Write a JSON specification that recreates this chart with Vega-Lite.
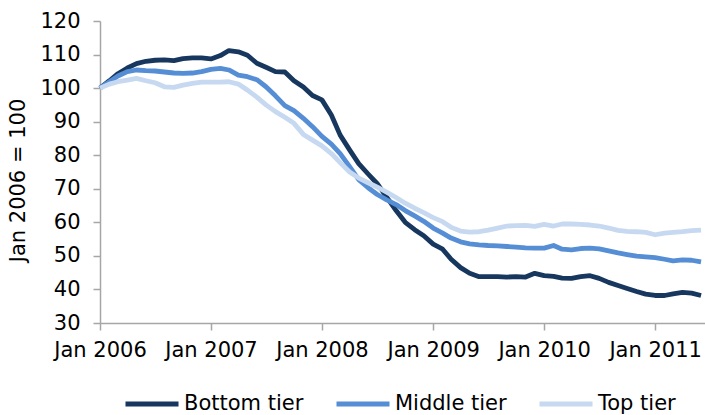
{
  "$schema": "https://vega.github.io/schema/vega-lite/v6.json",
  "width": 605,
  "height": 302,
  "autosize": "none",
  "padding": {"left": 100, "top": 21, "right": 0, "bottom": 92},
  "background": "white",
  "config": {
    "view": {"stroke": null},
    "font": "DejaVu Sans",
    "axis": {"grid": false, "domainColor": "#A6A6A6", "tickColor": "#A6A6A6", "domainWidth": 1.5, "tickWidth": 1.5, "tickSize": 7, "labelColor": "#000000", "titleColor": "#000000", "labelFont": "DejaVu Sans", "titleFont": "DejaVu Sans", "labelFontSize": 21, "titleFontSize": 21, "titleFontWeight": "normal"},
    "legend": {"labelFont": "DejaVu Sans", "labelFontSize": 21, "labelColor": "#000000"}
  },
  "data": {"values": [
    {"month": "2006-01-01", "tier": "Bottom tier", "index": 100}, {"month": "2006-02-01", "tier": "Bottom tier", "index": 102.2}, {"month": "2006-03-01", "tier": "Bottom tier", "index": 104.3}, {"month": "2006-04-01", "tier": "Bottom tier", "index": 106}, {"month": "2006-05-01", "tier": "Bottom tier", "index": 107.3}, {"month": "2006-06-01", "tier": "Bottom tier", "index": 108}, {"month": "2006-07-01", "tier": "Bottom tier", "index": 108.3}, {"month": "2006-08-01", "tier": "Bottom tier", "index": 108.4}, {"month": "2006-09-01", "tier": "Bottom tier", "index": 108.2}, {"month": "2006-10-01", "tier": "Bottom tier", "index": 108.8}, {"month": "2006-11-01", "tier": "Bottom tier", "index": 109}, {"month": "2006-12-01", "tier": "Bottom tier", "index": 109},
    {"month": "2007-01-01", "tier": "Bottom tier", "index": 108.7}, {"month": "2007-02-01", "tier": "Bottom tier", "index": 109.7}, {"month": "2007-03-01", "tier": "Bottom tier", "index": 111.2}, {"month": "2007-04-01", "tier": "Bottom tier", "index": 110.8}, {"month": "2007-05-01", "tier": "Bottom tier", "index": 109.8}, {"month": "2007-06-01", "tier": "Bottom tier", "index": 107.4}, {"month": "2007-07-01", "tier": "Bottom tier", "index": 106.2}, {"month": "2007-08-01", "tier": "Bottom tier", "index": 104.9}, {"month": "2007-09-01", "tier": "Bottom tier", "index": 104.8}, {"month": "2007-10-01", "tier": "Bottom tier", "index": 102.2}, {"month": "2007-11-01", "tier": "Bottom tier", "index": 100.3}, {"month": "2007-12-01", "tier": "Bottom tier", "index": 97.8},
    {"month": "2008-01-01", "tier": "Bottom tier", "index": 96.5}, {"month": "2008-02-01", "tier": "Bottom tier", "index": 92}, {"month": "2008-03-01", "tier": "Bottom tier", "index": 86}, {"month": "2008-04-01", "tier": "Bottom tier", "index": 81.6}, {"month": "2008-05-01", "tier": "Bottom tier", "index": 77.5}, {"month": "2008-06-01", "tier": "Bottom tier", "index": 74.4}, {"month": "2008-07-01", "tier": "Bottom tier", "index": 71.5}, {"month": "2008-08-01", "tier": "Bottom tier", "index": 67.5}, {"month": "2008-09-01", "tier": "Bottom tier", "index": 63.5}, {"month": "2008-10-01", "tier": "Bottom tier", "index": 60}, {"month": "2008-11-01", "tier": "Bottom tier", "index": 57.8}, {"month": "2008-12-01", "tier": "Bottom tier", "index": 56},
    {"month": "2009-01-01", "tier": "Bottom tier", "index": 53.5}, {"month": "2009-02-01", "tier": "Bottom tier", "index": 52}, {"month": "2009-03-01", "tier": "Bottom tier", "index": 49}, {"month": "2009-04-01", "tier": "Bottom tier", "index": 46.5}, {"month": "2009-05-01", "tier": "Bottom tier", "index": 44.8}, {"month": "2009-06-01", "tier": "Bottom tier", "index": 43.8}, {"month": "2009-07-01", "tier": "Bottom tier", "index": 43.8}, {"month": "2009-08-01", "tier": "Bottom tier", "index": 43.8}, {"month": "2009-09-01", "tier": "Bottom tier", "index": 43.7}, {"month": "2009-10-01", "tier": "Bottom tier", "index": 43.8}, {"month": "2009-11-01", "tier": "Bottom tier", "index": 43.7}, {"month": "2009-12-01", "tier": "Bottom tier", "index": 44.8},
    {"month": "2010-01-01", "tier": "Bottom tier", "index": 44.1}, {"month": "2010-02-01", "tier": "Bottom tier", "index": 43.9}, {"month": "2010-03-01", "tier": "Bottom tier", "index": 43.4}, {"month": "2010-04-01", "tier": "Bottom tier", "index": 43.3}, {"month": "2010-05-01", "tier": "Bottom tier", "index": 43.8}, {"month": "2010-06-01", "tier": "Bottom tier", "index": 44.1}, {"month": "2010-07-01", "tier": "Bottom tier", "index": 43.3}, {"month": "2010-08-01", "tier": "Bottom tier", "index": 42.1}, {"month": "2010-09-01", "tier": "Bottom tier", "index": 41.2}, {"month": "2010-10-01", "tier": "Bottom tier", "index": 40.3}, {"month": "2010-11-01", "tier": "Bottom tier", "index": 39.4}, {"month": "2010-12-01", "tier": "Bottom tier", "index": 38.6},
    {"month": "2011-01-01", "tier": "Bottom tier", "index": 38.2}, {"month": "2011-02-01", "tier": "Bottom tier", "index": 38.2}, {"month": "2011-03-01", "tier": "Bottom tier", "index": 38.7}, {"month": "2011-04-01", "tier": "Bottom tier", "index": 39.1}, {"month": "2011-05-01", "tier": "Bottom tier", "index": 38.9}, {"month": "2011-06-01", "tier": "Bottom tier", "index": 38.2},

    {"month": "2006-01-01", "tier": "Middle tier", "index": 100}, {"month": "2006-02-01", "tier": "Middle tier", "index": 101.9}, {"month": "2006-03-01", "tier": "Middle tier", "index": 103.6}, {"month": "2006-04-01", "tier": "Middle tier", "index": 104.9}, {"month": "2006-05-01", "tier": "Middle tier", "index": 105.4}, {"month": "2006-06-01", "tier": "Middle tier", "index": 105.2}, {"month": "2006-07-01", "tier": "Middle tier", "index": 105.1}, {"month": "2006-08-01", "tier": "Middle tier", "index": 104.8}, {"month": "2006-09-01", "tier": "Middle tier", "index": 104.5}, {"month": "2006-10-01", "tier": "Middle tier", "index": 104.4}, {"month": "2006-11-01", "tier": "Middle tier", "index": 104.5}, {"month": "2006-12-01", "tier": "Middle tier", "index": 104.9},
    {"month": "2007-01-01", "tier": "Middle tier", "index": 105.6}, {"month": "2007-02-01", "tier": "Middle tier", "index": 105.9}, {"month": "2007-03-01", "tier": "Middle tier", "index": 105.4}, {"month": "2007-04-01", "tier": "Middle tier", "index": 103.9}, {"month": "2007-05-01", "tier": "Middle tier", "index": 103.4}, {"month": "2007-06-01", "tier": "Middle tier", "index": 102.5}, {"month": "2007-07-01", "tier": "Middle tier", "index": 100.4}, {"month": "2007-08-01", "tier": "Middle tier", "index": 97.7}, {"month": "2007-09-01", "tier": "Middle tier", "index": 94.8}, {"month": "2007-10-01", "tier": "Middle tier", "index": 93.3}, {"month": "2007-11-01", "tier": "Middle tier", "index": 91}, {"month": "2007-12-01", "tier": "Middle tier", "index": 88.5},
    {"month": "2008-01-01", "tier": "Middle tier", "index": 85.6}, {"month": "2008-02-01", "tier": "Middle tier", "index": 83.3}, {"month": "2008-03-01", "tier": "Middle tier", "index": 80.5}, {"month": "2008-04-01", "tier": "Middle tier", "index": 76.6}, {"month": "2008-05-01", "tier": "Middle tier", "index": 72.7}, {"month": "2008-06-01", "tier": "Middle tier", "index": 70.3}, {"month": "2008-07-01", "tier": "Middle tier", "index": 68.3}, {"month": "2008-08-01", "tier": "Middle tier", "index": 66.7}, {"month": "2008-09-01", "tier": "Middle tier", "index": 65.3}, {"month": "2008-10-01", "tier": "Middle tier", "index": 63.5}, {"month": "2008-11-01", "tier": "Middle tier", "index": 61.9}, {"month": "2008-12-01", "tier": "Middle tier", "index": 60.3},
    {"month": "2009-01-01", "tier": "Middle tier", "index": 58.3}, {"month": "2009-02-01", "tier": "Middle tier", "index": 56.8}, {"month": "2009-03-01", "tier": "Middle tier", "index": 55.3}, {"month": "2009-04-01", "tier": "Middle tier", "index": 54.2}, {"month": "2009-05-01", "tier": "Middle tier", "index": 53.6}, {"month": "2009-06-01", "tier": "Middle tier", "index": 53.3}, {"month": "2009-07-01", "tier": "Middle tier", "index": 53.1}, {"month": "2009-08-01", "tier": "Middle tier", "index": 53.0}, {"month": "2009-09-01", "tier": "Middle tier", "index": 52.8}, {"month": "2009-10-01", "tier": "Middle tier", "index": 52.6}, {"month": "2009-11-01", "tier": "Middle tier", "index": 52.4}, {"month": "2009-12-01", "tier": "Middle tier", "index": 52.3},
    {"month": "2010-01-01", "tier": "Middle tier", "index": 52.3}, {"month": "2010-02-01", "tier": "Middle tier", "index": 53.1}, {"month": "2010-03-01", "tier": "Middle tier", "index": 52.0}, {"month": "2010-04-01", "tier": "Middle tier", "index": 51.8}, {"month": "2010-05-01", "tier": "Middle tier", "index": 52.2}, {"month": "2010-06-01", "tier": "Middle tier", "index": 52.3}, {"month": "2010-07-01", "tier": "Middle tier", "index": 52.1}, {"month": "2010-08-01", "tier": "Middle tier", "index": 51.5}, {"month": "2010-09-01", "tier": "Middle tier", "index": 50.9}, {"month": "2010-10-01", "tier": "Middle tier", "index": 50.4}, {"month": "2010-11-01", "tier": "Middle tier", "index": 49.9}, {"month": "2010-12-01", "tier": "Middle tier", "index": 49.7},
    {"month": "2011-01-01", "tier": "Middle tier", "index": 49.5}, {"month": "2011-02-01", "tier": "Middle tier", "index": 49.0}, {"month": "2011-03-01", "tier": "Middle tier", "index": 48.5}, {"month": "2011-04-01", "tier": "Middle tier", "index": 48.8}, {"month": "2011-05-01", "tier": "Middle tier", "index": 48.7}, {"month": "2011-06-01", "tier": "Middle tier", "index": 48.2},

    {"month": "2006-01-01", "tier": "Top tier", "index": 100}, {"month": "2006-02-01", "tier": "Top tier", "index": 101.2}, {"month": "2006-03-01", "tier": "Top tier", "index": 101.9}, {"month": "2006-04-01", "tier": "Top tier", "index": 102.4}, {"month": "2006-05-01", "tier": "Top tier", "index": 102.9}, {"month": "2006-06-01", "tier": "Top tier", "index": 102.2}, {"month": "2006-07-01", "tier": "Top tier", "index": 101.6}, {"month": "2006-08-01", "tier": "Top tier", "index": 100.4}, {"month": "2006-09-01", "tier": "Top tier", "index": 100.2}, {"month": "2006-10-01", "tier": "Top tier", "index": 100.9}, {"month": "2006-11-01", "tier": "Top tier", "index": 101.4}, {"month": "2006-12-01", "tier": "Top tier", "index": 101.8},
    {"month": "2007-01-01", "tier": "Top tier", "index": 101.8}, {"month": "2007-02-01", "tier": "Top tier", "index": 101.8}, {"month": "2007-03-01", "tier": "Top tier", "index": 101.9}, {"month": "2007-04-01", "tier": "Top tier", "index": 101.2}, {"month": "2007-05-01", "tier": "Top tier", "index": 99.4}, {"month": "2007-06-01", "tier": "Top tier", "index": 97.3}, {"month": "2007-07-01", "tier": "Top tier", "index": 95}, {"month": "2007-08-01", "tier": "Top tier", "index": 93}, {"month": "2007-09-01", "tier": "Top tier", "index": 91.3}, {"month": "2007-10-01", "tier": "Top tier", "index": 89.5}, {"month": "2007-11-01", "tier": "Top tier", "index": 86.2}, {"month": "2007-12-01", "tier": "Top tier", "index": 84.5},
    {"month": "2008-01-01", "tier": "Top tier", "index": 82.8}, {"month": "2008-02-01", "tier": "Top tier", "index": 80.5}, {"month": "2008-03-01", "tier": "Top tier", "index": 77.8}, {"month": "2008-04-01", "tier": "Top tier", "index": 75}, {"month": "2008-05-01", "tier": "Top tier", "index": 73.2}, {"month": "2008-06-01", "tier": "Top tier", "index": 71.8}, {"month": "2008-07-01", "tier": "Top tier", "index": 70.5}, {"month": "2008-08-01", "tier": "Top tier", "index": 69}, {"month": "2008-09-01", "tier": "Top tier", "index": 67.4}, {"month": "2008-10-01", "tier": "Top tier", "index": 65.7}, {"month": "2008-11-01", "tier": "Top tier", "index": 64.2}, {"month": "2008-12-01", "tier": "Top tier", "index": 62.9},
    {"month": "2009-01-01", "tier": "Top tier", "index": 61.4}, {"month": "2009-02-01", "tier": "Top tier", "index": 60.2}, {"month": "2009-03-01", "tier": "Top tier", "index": 58.5}, {"month": "2009-04-01", "tier": "Top tier", "index": 57.4}, {"month": "2009-05-01", "tier": "Top tier", "index": 57.1}, {"month": "2009-06-01", "tier": "Top tier", "index": 57.2}, {"month": "2009-07-01", "tier": "Top tier", "index": 57.7}, {"month": "2009-08-01", "tier": "Top tier", "index": 58.3}, {"month": "2009-09-01", "tier": "Top tier", "index": 58.9}, {"month": "2009-10-01", "tier": "Top tier", "index": 59.0}, {"month": "2009-11-01", "tier": "Top tier", "index": 59.1}, {"month": "2009-12-01", "tier": "Top tier", "index": 58.8},
    {"month": "2010-01-01", "tier": "Top tier", "index": 59.4}, {"month": "2010-02-01", "tier": "Top tier", "index": 58.9}, {"month": "2010-03-01", "tier": "Top tier", "index": 59.5}, {"month": "2010-04-01", "tier": "Top tier", "index": 59.5}, {"month": "2010-05-01", "tier": "Top tier", "index": 59.4}, {"month": "2010-06-01", "tier": "Top tier", "index": 59.2}, {"month": "2010-07-01", "tier": "Top tier", "index": 58.9}, {"month": "2010-08-01", "tier": "Top tier", "index": 58.3}, {"month": "2010-09-01", "tier": "Top tier", "index": 57.6}, {"month": "2010-10-01", "tier": "Top tier", "index": 57.3}, {"month": "2010-11-01", "tier": "Top tier", "index": 57.2}, {"month": "2010-12-01", "tier": "Top tier", "index": 57.0},
    {"month": "2011-01-01", "tier": "Top tier", "index": 56.3}, {"month": "2011-02-01", "tier": "Top tier", "index": 56.8}, {"month": "2011-03-01", "tier": "Top tier", "index": 57.0}, {"month": "2011-04-01", "tier": "Top tier", "index": 57.2}, {"month": "2011-05-01", "tier": "Top tier", "index": 57.5}, {"month": "2011-06-01", "tier": "Top tier", "index": 57.7}
  ]},
  "mark": {"type": "line", "strokeWidth": 4.8, "strokeJoin": "round", "strokeCap": "butt"},
  "encoding": {
    "x": {
      "field": "month", "type": "temporal",
      "scale": {"type": "utc", "domain": [{"year": 2006, "month": 1, "date": 1, "utc": true}, {"year": 2011, "month": 6, "date": 14, "utc": true}], "nice": false},
      "axis": {
        "title": null, "labelExpr": "utcFormat(datum.value, '%b %Y')", "labelPadding": 9, "labelFlush": false, "labelOverlap": false,
        "values": [
          {"year": 2006, "month": 1, "date": 1, "utc": true},
          {"year": 2007, "month": 1, "date": 1, "utc": true},
          {"year": 2008, "month": 1, "date": 1, "utc": true},
          {"year": 2009, "month": 1, "date": 1, "utc": true},
          {"year": 2010, "month": 1, "date": 1, "utc": true},
          {"year": 2011, "month": 1, "date": 1, "utc": true}
        ]
      }
    },
    "y": {
      "field": "index", "type": "quantitative",
      "scale": {"domain": [30, 120], "nice": false, "zero": false},
      "axis": {"title": "Jan 2006 = 100", "values": [30, 40, 50, 60, 70, 80, 90, 100, 110, 120], "labelPadding": 13, "titleX": -82, "titleY": 159, "titleAngle": -90, "titleBaseline": "middle", "titleAlign": "center", "labelFlush": false}
    },
    "color": {
      "field": "tier", "type": "nominal",
      "scale": {"domain": ["Bottom tier", "Middle tier", "Top tier"], "range": ["#17375E", "#558ED5", "#C6D9F1"]},
      "legend": {"title": null, "orient": "none", "legendX": 23, "legendY": 354, "direction": "horizontal", "symbolType": "stroke", "symbolSize": 2809, "symbolStrokeWidth": 5, "labelOffset": 3, "columnPadding": 22}
    }
  }
}
